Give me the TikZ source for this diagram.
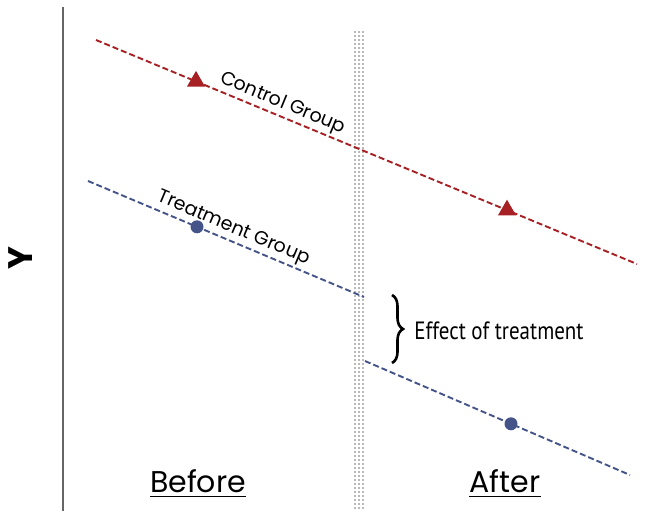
\documentclass[tikz,border=0pt]{standalone}
\usepackage{fontspec}
\setmainfont{Poppins}
\newfontfamily\condfont[FakeStretch=0.84]{PT Sans}
\usetikzlibrary{shapes.geometric,decorations.pathreplacing}
\definecolor{ctrlred}{RGB}{166,32,36}
\definecolor{trtblue}{RGB}{68,84,136}
\definecolor{bandgray}{RGB}{185,185,185}
\tikzset{
  ctrlline/.style={ctrlred, line width=1.9pt, dash pattern=on 6pt off 3pt},
  trtline/.style={trtblue, line width=1.9pt, dash pattern=on 6pt off 3pt},
  tri/.style={regular polygon, regular polygon sides=3, fill=ctrlred, minimum size=21pt, inner sep=0pt},
  dot/.style={circle, fill=trtblue, minimum size=13pt, inner sep=0pt},
  grplabel/.style={font=\fontsize{19}{19}\selectfont, inner sep=1pt},
  phase/.style={font=\fontsize{30}{30}\selectfont, inner sep=0pt},
  bandcol/.style={bandgray, line width=2.2pt, dash pattern=on 2.2pt off 1.8pt},
}
\begin{document}
\begin{tikzpicture}[x=1pt,y=-1pt]
\useasboundingbox (0,0) rectangle (664,511);
% axis
\coordinate (ax1) at (63,7);
\coordinate (ax2) at (63,511);
\draw[gray!80!black, line width=1.3pt] (ax1) -- (ax2);
\node[font=\fontsize{34}{34}\selectfont\bfseries, rotate=90, inner sep=0pt] (ylab) at (21,258) {Y};
% dotted band
\foreach \x/\n in {355/a,359/b,363/c}{
  \coordinate (bt\n) at (\x,31);
  \coordinate (bb\n) at (\x,511);
  \draw[bandcol] (bt\n) -- (bb\n);
}
% control group
\coordinate (c1) at (96,40);
\coordinate (c2) at (637,264);
\draw[ctrlline] (c1) -- (c2);
\path (c1) -- (c2) node[pos=0.336, sloped, above, grplabel, yshift=2pt] (clab) {Control Group};
\node[tri] (t1) at (196,81.4) {};
\node[tri] (t2) at (507,210.2) {};
% treatment group
\coordinate (b1) at (88,181);
\coordinate (b2) at (364,297);
\coordinate (b3) at (365,361);
\coordinate (b4) at (630,475);
\draw[trtline] (b1) -- (b2);
\draw[trtline] (b3) -- (b4);
\path (b1) -- (b2) node[pos=0.51, sloped, above, grplabel, yshift=2pt] (tlab) {Treatment Group};
\node[dot] (d1) at (197,226.8) {};
\node[dot] (d2) at (511,423.8) {};
% effect brace
\coordinate (br1) at (392,295);
\coordinate (br2) at (392,363);
\draw[decorate, decoration={brace, amplitude=11pt}, line width=2.6pt] (br1) -- (br2);
\node[font=\condfont\fontsize{25}{25}\selectfont, inner sep=0pt] (eff) at (499,331) {Effect of treatment};
% before / after
\node[phase] (before) at (198,481) {Before};
\node[phase] (after) at (505,481) {After};
\draw[line width=1.6pt] ([yshift=-4pt]before.base west) -- ([yshift=-4pt]before.base east);
\draw[line width=1.6pt] ([yshift=-4pt]after.base west) -- ([yshift=-4pt]after.base east);
\end{tikzpicture}
\end{document}
